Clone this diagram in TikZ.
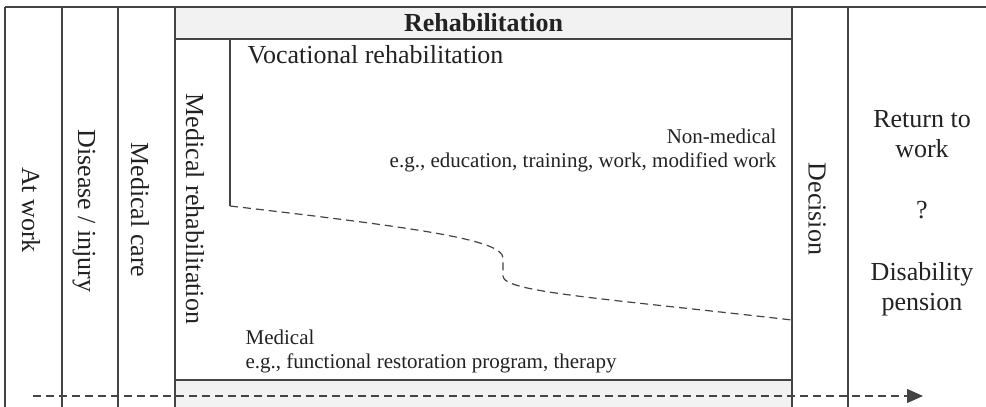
\documentclass[tikz,border=0pt]{standalone}
\usepackage{fontspec}
\setmainfont{Liberation Serif}
\usetikzlibrary{positioning,arrows.meta,calc}

\definecolor{linegray}{HTML}{444444}
\definecolor{bandgray}{HTML}{F2F2F2}
\definecolor{textgray}{HTML}{222222}

\tikzset{
  phase/.style={rotate=-90, inner sep=0pt, text=textgray, font=\fontsize{26}{30}\selectfont},
  bigtext/.style={inner sep=0pt, text=textgray, font=\fontsize{26}{30}\selectfont, align=center},
  note/.style={inner sep=0pt, text=textgray, font=\fontsize{21}{24.5}\selectfont},
  timeline/.style={dash pattern=on 8pt off 5pt, -{Triangle[length=16pt,width=14pt]}},
}

\begin{document}
\begin{tikzpicture}[x=1pt, y=-1pt, line width=1.2pt, draw=linegray]
\useasboundingbox (0,0) rectangle (986,407);

% grey bands of the rehabilitation block
\fill[bandgray] (175,7) rectangle (792,39);
\fill[bandgray] (175,380) rectangle (792,407);

% column borders
\draw (5,7) -- (986,7);
\foreach \x in {5,62,118,175,792,848}
  \draw (\x,7) -- (\x,407);
\draw (175,39) -- (792,39);
\draw (175,380) -- (792,380);

% vocational part and its border with the medical part
\coordinate (voctop) at (230,39);
\coordinate (voccorner) at (230,206);
\coordinate (stepin) at (503,258);
\coordinate (stepout) at (503,276);
\coordinate (vocend) at (792,320);
\draw (voctop) -- (voccorner);
\draw[dash pattern=on 8pt off 5pt]
  (voccorner) .. controls (420,228) and (503,240) .. (stepin) -- (stepout)
  .. controls (503,292) and (600,298) .. (vocend);

% phases
\node[phase] (atwork) at (31,210) {At work};
\node[phase] (disease) at (84,211) {Disease / injury};
\node[phase] (care) at (140,210) {Medical care};
\node[phase] (medrehab) at (195,209) {Medical rehabilitation};
\node[phase] (decision) at (817,209) {Decision};

% rehabilitation block
\node[bigtext, font=\fontsize{26}{30}\selectfont\bfseries] (rehab) at (483.5,23) {Rehabilitation};
\node[bigtext, anchor=base west] (vocational) at (247,63) {Vocational rehabilitation};
\node[note, anchor=north east, align=right] (nonmedical) at (777,128)
  {Non-medical\\e.g., education, training, work, modified work};
\node[note, anchor=north west, align=left] (medical) at (245,329)
  {Medical\\e.g., functional restoration program, therapy};

% outcomes
\node[bigtext, anchor=base] (rtw) at (922,157) {Return to\\work};
\node[bigtext] (question) at (922,210) {?};
\node[bigtext, anchor=base] (pension) at (922,310) {Disability\\pension};

% time axis
\coordinate (timestart) at (33,396);
\coordinate (timeend) at (923,396);
\draw[timeline] (timestart) -- (timeend);

\end{tikzpicture}
\end{document}
